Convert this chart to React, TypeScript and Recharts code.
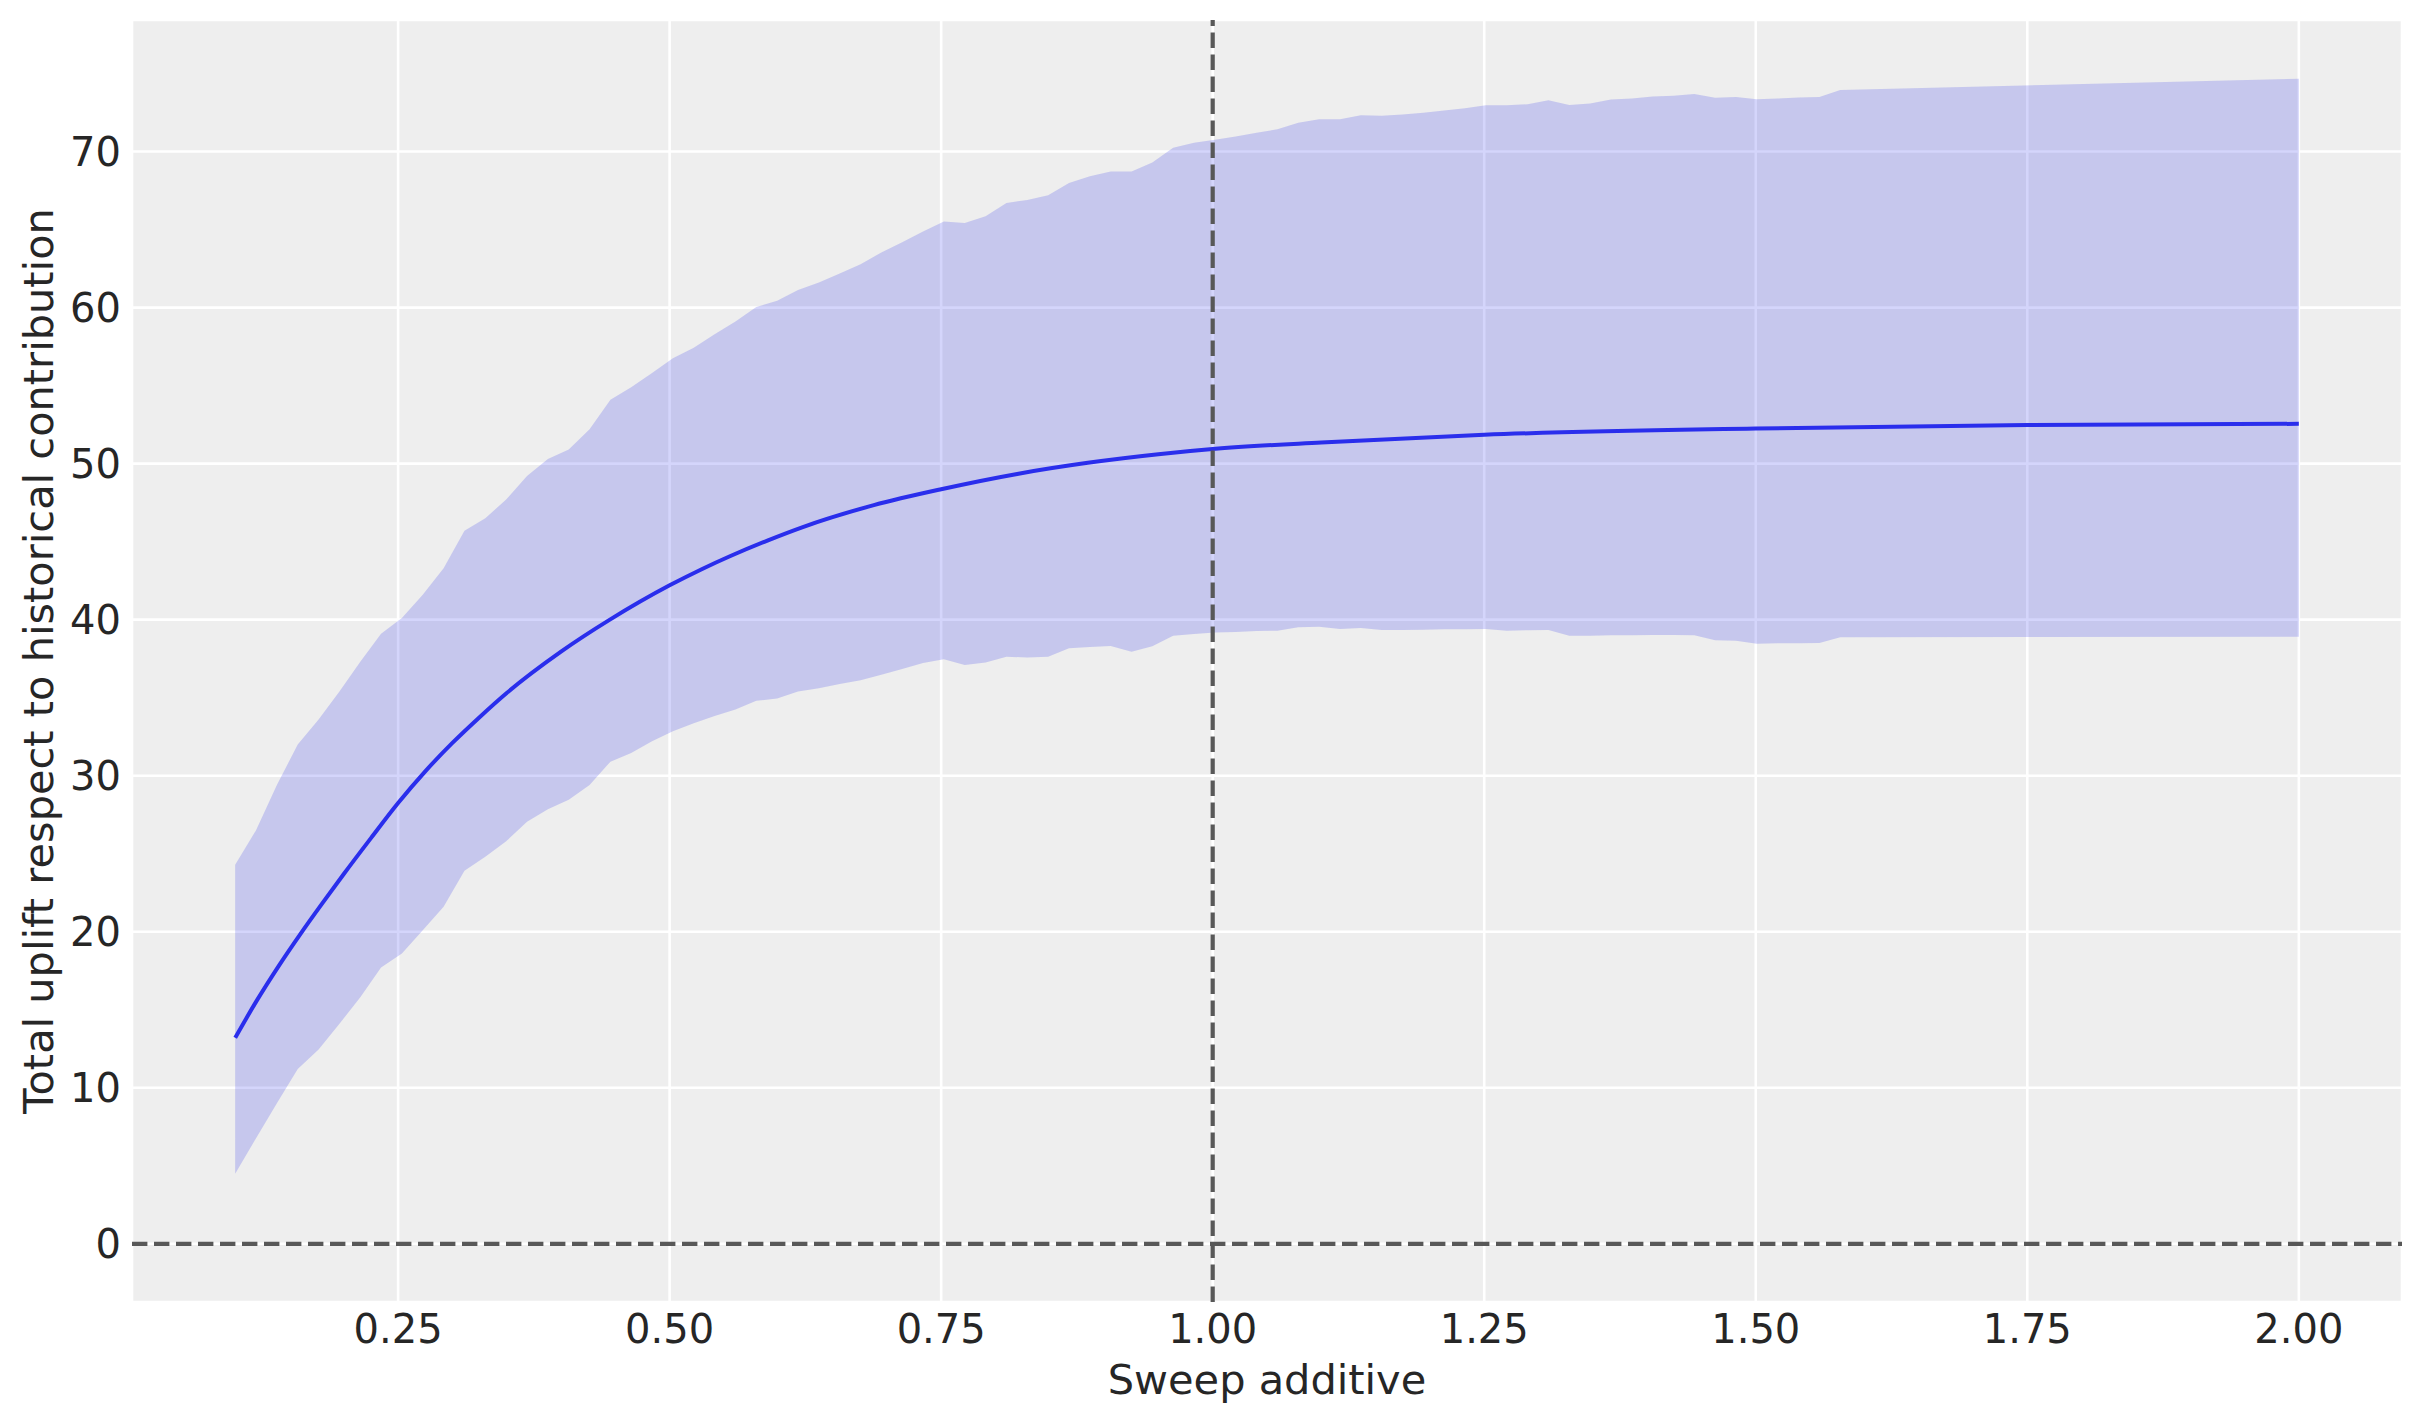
import React from "react";
import {
  ComposedChart,
  Area,
  Line,
  XAxis,
  YAxis,
  CartesianGrid,
  ReferenceLine,
} from "recharts";

// sweep grid (every point where the HDI band has a vertex)
const bandX = [
  0.1, 0.1192, 0.1384, 0.1576, 0.1768, 0.196, 0.2152, 0.2343, 0.2535, 0.2727,
  0.2919, 0.3111, 0.3303, 0.3495, 0.3687, 0.3879, 0.4071, 0.4263, 0.4455, 0.4646,
  0.4838, 0.503, 0.5222, 0.5414, 0.5606, 0.5798, 0.599, 0.6182, 0.6374, 0.6566,
  0.6758, 0.6949, 0.7141, 0.7333, 0.7525, 0.7717, 0.7909, 0.8101, 0.8293, 0.8485,
  0.8677, 0.8869, 0.9061, 0.9253, 0.9444, 0.9636, 0.9828, 1.002, 1.0212, 1.0404,
  1.0596, 1.0788, 1.098, 1.1172, 1.1364, 1.1556, 1.1747, 1.1939, 1.2131, 1.2323,
  1.2515, 1.2707, 1.2899, 1.3091, 1.3283, 1.3475, 1.3667, 1.3859, 1.4051, 1.4242,
  1.4434, 1.4626, 1.4818, 1.501, 1.5202, 1.5394, 1.5586, 1.5778, 2.0,
];

const bandHigh = [
  24.3, 26.5, 29.4, 32.0, 33.6, 35.4, 37.3, 39.1, 40.1, 41.6,
  43.3, 45.7, 46.5, 47.7, 49.2, 50.3, 50.9, 52.2, 54.1, 54.9,
  55.8, 56.75, 57.43, 58.29, 59.1, 60.04, 60.43, 61.13, 61.6, 62.18,
  62.78, 63.53, 64.18, 64.88, 65.52, 65.42, 65.85, 66.7, 66.9, 67.2,
  67.99, 68.42, 68.72, 68.72, 69.3, 70.24, 70.56, 70.75, 70.96, 71.2,
  71.43, 71.84, 72.07, 72.07, 72.33, 72.29, 72.37, 72.48, 72.63, 72.78,
  72.97, 72.97, 73.03, 73.29, 72.99, 73.08, 73.33, 73.4, 73.53, 73.57,
  73.68, 73.44, 73.5, 73.35, 73.4, 73.46, 73.5, 73.95, 74.67,
];

const bandLow = [
  4.49, 6.77, 9.0, 11.2, 12.45, 14.1, 15.8, 17.7, 18.6, 20.1,
  21.6, 23.9, 24.8, 25.8, 27.05, 27.85, 28.45, 29.4, 30.9, 31.45,
  32.2, 32.85, 33.36, 33.83, 34.24, 34.8, 34.95, 35.4, 35.61, 35.87,
  36.12, 36.47, 36.83, 37.22, 37.47, 37.09, 37.26, 37.62, 37.58, 37.62,
  38.16, 38.24, 38.31, 37.94, 38.29, 38.97, 39.08, 39.17, 39.21, 39.27,
  39.29, 39.51, 39.55, 39.4, 39.47, 39.34, 39.34, 39.36, 39.38, 39.38,
  39.4, 39.29, 39.32, 39.34, 38.97, 38.97, 39.0, 39.0, 39.02, 39.02,
  39.0, 38.68, 38.65, 38.46, 38.48, 38.48, 38.5, 38.87, 38.9,
];

// posterior mean uplift
const meanX = [
  0.1, 0.12, 0.14, 0.16, 0.18, 0.2, 0.225, 0.25, 0.275, 0.3,
  0.325, 0.35, 0.4, 0.445, 0.5, 0.53, 0.556, 0.59, 0.622, 0.688,
  0.75, 0.82, 0.885, 0.95, 1.0, 1.1, 1.25, 1.5, 1.75, 2.0,
];
const meanY = [
  13.2, 15.6, 17.8, 19.85, 21.8, 23.7, 26.0, 28.25, 30.28, 32.1,
  33.75, 35.3, 37.95, 40.0, 42.2, 43.25, 44.08, 45.07, 45.92, 47.34,
  48.36, 49.34, 50.05, 50.6, 50.93, 51.36, 51.85, 52.25, 52.48, 52.55,
];

const xTicks = [0.25, 0.5, 0.75, 1.0, 1.25, 1.5, 1.75, 2.0];
const yTicks = [0, 10, 20, 30, 40, 50, 60, 70];

const band = bandX.map((x, i) => ({ x, range: [bandLow[i], bandHigh[i]] }));
const mean = meanX.map((x, i) => ({ x, y: meanY[i] }));

const FONT = "DejaVu Sans";
const TEXT = "#262626";
const BLUE = "#2a2eec";
const DASH = "#585858";

function YLabel({ viewBox }: any) {
  const cx = 53;
  const cy = viewBox.y + viewBox.height / 2;
  return (
    <text
      x={cx}
      y={cy}
      transform={`rotate(-90, ${cx}, ${cy})`}
      textAnchor="middle"
      fill={TEXT}
      fontSize={41.5}
      fontFamily={FONT}
    >
      Total uplift respect to historical contribution
    </text>
  );
}

export default function App() {
  return (
    <div
      style={{
        position: "absolute",
        left: 0,
        top: 0,
        width: 2423,
        height: 1423,
        background: "#ffffff",
      }}
    >
      <ComposedChart
        width={2423}
        height={1423}
        data={band}
        margin={{ top: 20, right: 21, bottom: 0, left: 0 }}
      >
        <CartesianGrid
          stroke="#ffffff"
          strokeWidth={2.6}
          fill="#eeeeee"
          fillOpacity={1}
        />
        <XAxis
          type="number"
          dataKey="x"
          domain={[0.005, 2.095]}
          ticks={xTicks}
          allowDataOverflow
          height={121}
          axisLine={false}
          tickLine={false}
          tickSize={0}
          tickMargin={13}
          tickFormatter={(v: number) => v.toFixed(2)}
          tick={{ fill: TEXT, fontSize: 40, fontFamily: FONT }}
          label={{
            value: "Sweep additive",
            position: "insideBottom",
            offset: 29,
            fill: TEXT,
            fontSize: 41.5,
            fontFamily: FONT,
          }}
        />
        <YAxis
          type="number"
          domain={[-3.73, 78.43]}
          ticks={yTicks}
          allowDataOverflow
          width={132}
          axisLine={false}
          tickLine={false}
          tickSize={0}
          tickMargin={11}
          tick={{ fill: TEXT, fontSize: 40, fontFamily: FONT }}
          label={<YLabel />}
        />
        <Area
          type="linear"
          dataKey="range"
          stroke="none"
          fill={BLUE}
          fillOpacity={0.2}
          isAnimationActive={false}
          activeDot={false}
        />
        <Line
          data={mean}
          type="monotone"
          dataKey="y"
          stroke={BLUE}
          strokeWidth={4}
          dot={false}
          activeDot={false}
          isAnimationActive={false}
        />
        <ReferenceLine
          y={0}
          stroke={DASH}
          strokeWidth={4.2}
          strokeDasharray="15.4 6.6"
        />
        <ReferenceLine
          x={1}
          stroke={DASH}
          strokeWidth={4.2}
          strokeDasharray="15.4 6.6"
        />
      </ComposedChart>
    </div>
  );
}
